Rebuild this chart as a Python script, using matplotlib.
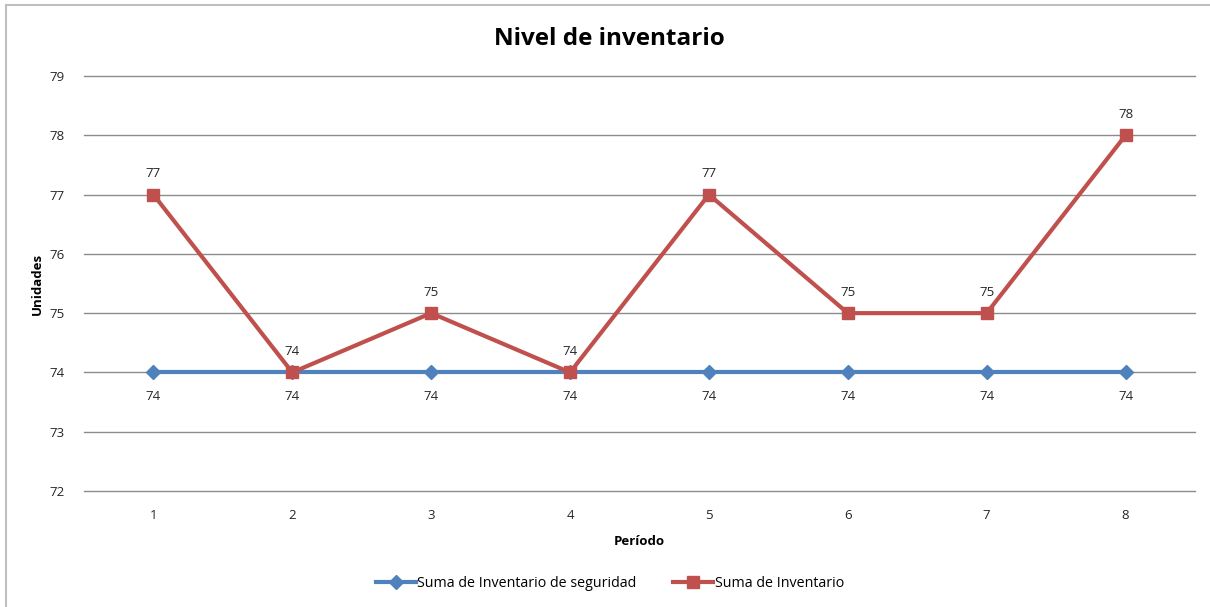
import matplotlib.pyplot as plt
from matplotlib.lines import Line2D

plt.rcParams['font.family'] = ['Open Sans', 'DejaVu Sans']

periodos = [1, 2, 3, 4, 5, 6, 7, 8]
inv_seguridad = [74, 74, 74, 74, 74, 74, 74, 74]
inventario = [77, 74, 75, 74, 77, 75, 75, 78]

azul = '#4F81BD'
rojo = '#C0504D'
texto = '#262626'

fig = plt.figure(figsize=(12.1, 6.07), dpi=100)
ax = fig.add_axes([0.0694, 0.1911, 0.9182, 0.6837])

ax.plot(periodos, inv_seguridad, color=azul, lw=3, marker='D', ms=7,
        label='Suma de Inventario de seguridad', zorder=3)
ax.plot(periodos, inventario, color=rojo, lw=3, marker='s', ms=9,
        label='Suma de Inventario', zorder=4)

for x, y in zip(periodos, inv_seguridad):
    ax.annotate(str(y), (x, y), xytext=(0, -17), textcoords='offset points',
                ha='center', va='center', fontsize=9.5, color=texto)
for x, y in zip(periodos, inventario):
    ax.annotate(str(y), (x, y), xytext=(0, 15), textcoords='offset points',
                ha='center', va='center', fontsize=9.5, color=texto)

ax.set_xlim(0.5, 8.5)
ax.set_ylim(72, 79)
ax.set_xticks(periodos)
ax.set_yticks(range(72, 80))
ax.grid(axis='y', color='#8C8C8C', lw=1)
for gl in ax.get_ygridlines():
    gl.set_clip_on(False)
ax.set_axisbelow(True)
for s in ax.spines.values():
    s.set_visible(False)
ax.tick_params(length=0, labelsize=9.5, colors=texto, pad=14)
ax.tick_params(axis='x', pad=13)

ax.set_xlabel('Período', fontsize=9.5, fontweight='bold', labelpad=9)
ax.set_ylabel('Unidades', fontsize=9.5, fontweight='bold', labelpad=4)
fig.text(0.5033, 0.935, 'Nivel de inventario', ha='center', va='center',
         fontsize=17.5, fontweight='bold')

fig.legend(loc='center', bbox_to_anchor=(0.504, 0.039), ncol=2, frameon=False,
           fontsize=10.3, handlelength=2.8, columnspacing=2.6, handletextpad=0.1)

# marco del grafico (solo borde izquierdo y superior visibles)
fig.add_artist(Line2D([0.005, 0.005], [0, 0.992], transform=fig.transFigure,
                      color='#BFBFBF', lw=1.5))
fig.add_artist(Line2D([0.005, 1], [0.992, 0.992], transform=fig.transFigure,
                      color='#BFBFBF', lw=1.5))

fig.savefig('out.png', dpi=100)
